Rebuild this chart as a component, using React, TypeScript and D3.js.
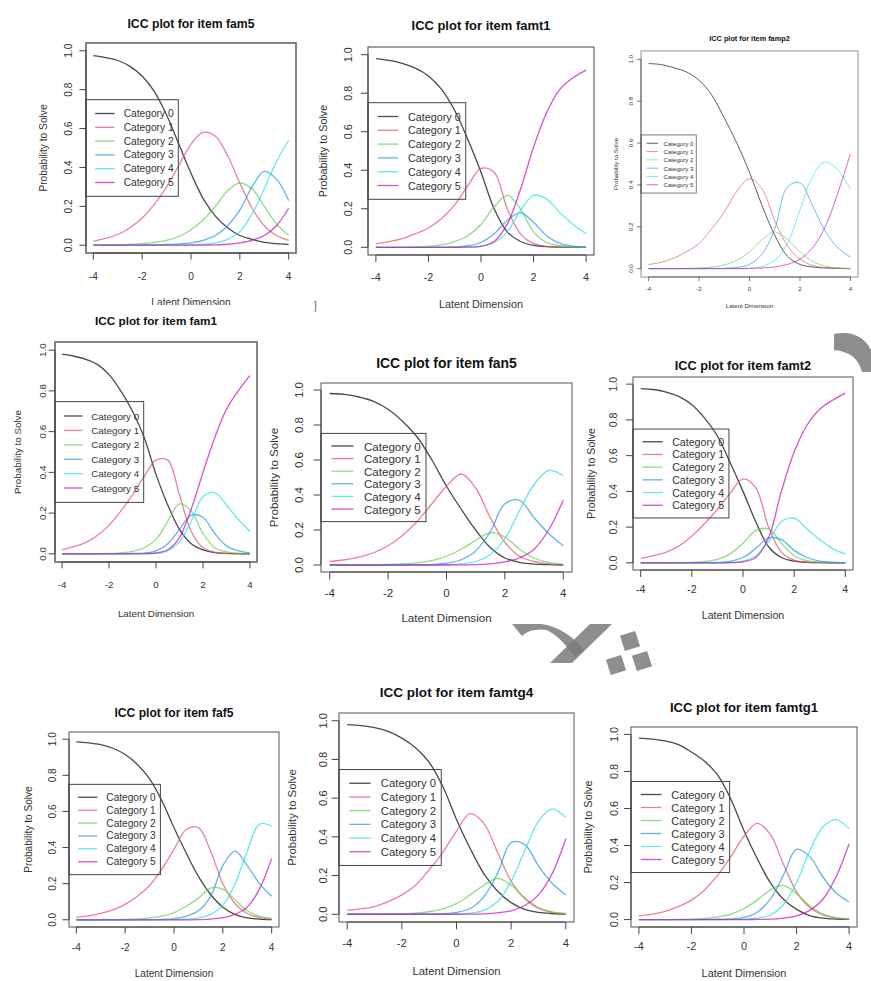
import { useEffect, useRef } from 'react';
import * as d3 from 'd3';

// latent dimension grid the curves were read at
const theta = [-4, -3.5, -3, -2.5, -2, -1.5, -1, -0.5, 0, 0.5, 1, 1.5, 2, 2.5, 3, 3.5, 4];
const categories = ['Category 0', 'Category 1', 'Category 2', 'Category 3', 'Category 4', 'Category 5'];
const xTicks = [-4, -2, 0, 2, 4];
const yTicks = [0, 0.2, 0.4, 0.6, 0.8, 1.0];

// probabilities per category (rows) at each theta (cols)
const fam5 = [
  [0.975, 0.965, 0.95, 0.92, 0.87, 0.79, 0.67, 0.52, 0.37, 0.24, 0.15, 0.09, 0.05, 0.03, 0.015, 0.008, 0.004],
  [0.02, 0.035, 0.055, 0.09, 0.14, 0.21, 0.3, 0.41, 0.52, 0.58, 0.56, 0.46, 0.32, 0.19, 0.1, 0.05, 0.025],
  [0, 0.001, 0.002, 0.004, 0.008, 0.015, 0.025, 0.045, 0.08, 0.13, 0.2, 0.28, 0.32, 0.29, 0.2, 0.11, 0.05],
  [0, 0, 0, 0, 0.001, 0.002, 0.004, 0.007, 0.012, 0.025, 0.05, 0.1, 0.18, 0.3, 0.38, 0.34, 0.23],
  [0, 0, 0, 0, 0, 0, 0.001, 0.001, 0.002, 0.005, 0.012, 0.03, 0.07, 0.16, 0.29, 0.43, 0.54],
  [0, 0, 0, 0, 0, 0, 0, 0, 0, 0.001, 0.002, 0.005, 0.012, 0.025, 0.05, 0.1, 0.19],
];
const famt1 = [
  [0.98, 0.97, 0.955, 0.93, 0.89, 0.82, 0.71, 0.56, 0.39, 0.2, 0.08, 0.03, 0.01, 0.003, 0.001, 0, 0],
  [0.02, 0.03, 0.045, 0.07, 0.1, 0.15, 0.22, 0.32, 0.41, 0.39, 0.2, 0.07, 0.02, 0.005, 0.001, 0, 0],
  [0, 0, 0, 0.002, 0.005, 0.012, 0.03, 0.06, 0.12, 0.21, 0.27, 0.2, 0.08, 0.025, 0.008, 0.002, 0],
  [0, 0, 0, 0, 0, 0.001, 0.002, 0.008, 0.025, 0.07, 0.14, 0.18, 0.13, 0.06, 0.02, 0.006, 0.002],
  [0, 0, 0, 0, 0, 0, 0, 0.002, 0.006, 0.025, 0.08, 0.19, 0.27, 0.25, 0.18, 0.12, 0.07],
  [0, 0, 0, 0, 0, 0, 0, 0.001, 0.005, 0.03, 0.12, 0.3, 0.52, 0.7, 0.82, 0.88, 0.92],
];
const famp2 = [
  [0.98, 0.975, 0.96, 0.94, 0.9, 0.83, 0.72, 0.6, 0.46, 0.3, 0.16, 0.06, 0.02, 0.008, 0.003, 0.001, 0],
  [0.02, 0.03, 0.05, 0.08, 0.12, 0.19, 0.27, 0.37, 0.43, 0.38, 0.23, 0.11, 0.045, 0.015, 0.005, 0.002, 0],
  [0, 0, 0, 0.001, 0.003, 0.008, 0.018, 0.04, 0.08, 0.14, 0.175, 0.14, 0.08, 0.035, 0.012, 0.004, 0.001],
  [0, 0, 0, 0, 0, 0.001, 0.002, 0.006, 0.02, 0.07, 0.19, 0.39, 0.41, 0.3, 0.18, 0.1, 0.055],
  [0, 0, 0, 0, 0, 0, 0, 0.001, 0.002, 0.01, 0.04, 0.12, 0.28, 0.44, 0.51, 0.47, 0.38],
  [0, 0, 0, 0, 0, 0, 0, 0, 0.001, 0.003, 0.008, 0.02, 0.045, 0.1, 0.2, 0.36, 0.55],
];
const fam1 = [
  [0.98, 0.97, 0.955, 0.93, 0.88, 0.8, 0.7, 0.57, 0.39, 0.24, 0.12, 0.05, 0.02, 0.006, 0.002, 0.001, 0],
  [0.02, 0.035, 0.055, 0.09, 0.14, 0.21, 0.29, 0.38, 0.46, 0.46, 0.29, 0.11, 0.03, 0.008, 0.002, 0, 0],
  [0, 0, 0, 0.001, 0.002, 0.005, 0.012, 0.03, 0.07, 0.16, 0.245, 0.21, 0.1, 0.03, 0.01, 0.003, 0.001],
  [0, 0, 0, 0, 0, 0.001, 0.002, 0.004, 0.015, 0.05, 0.12, 0.19, 0.18, 0.1, 0.04, 0.015, 0.005],
  [0, 0, 0, 0, 0, 0, 0, 0.001, 0.003, 0.015, 0.06, 0.16, 0.28, 0.3, 0.24, 0.17, 0.11],
  [0, 0, 0, 0, 0, 0, 0, 0.001, 0.004, 0.02, 0.08, 0.22, 0.4, 0.57, 0.71, 0.8, 0.875],
];
const fan5 = [
  [0.98, 0.975, 0.96, 0.935, 0.89, 0.82, 0.73, 0.6, 0.45, 0.32, 0.2, 0.1, 0.04, 0.015, 0.005, 0.002, 0],
  [0.02, 0.03, 0.045, 0.07, 0.11, 0.17, 0.25, 0.35, 0.45, 0.52, 0.44, 0.27, 0.13, 0.05, 0.02, 0.007, 0.002],
  [0, 0, 0, 0.001, 0.003, 0.006, 0.012, 0.025, 0.05, 0.09, 0.14, 0.185, 0.16, 0.09, 0.04, 0.015, 0.005],
  [0, 0, 0, 0, 0, 0, 0.001, 0.003, 0.01, 0.03, 0.08, 0.19, 0.35, 0.37, 0.27, 0.18, 0.11],
  [0, 0, 0, 0, 0, 0, 0, 0.001, 0.002, 0.006, 0.02, 0.06, 0.15, 0.31, 0.46, 0.54, 0.51],
  [0, 0, 0, 0, 0, 0, 0, 0, 0, 0.001, 0.002, 0.007, 0.018, 0.04, 0.09, 0.2, 0.37],
];
const famt2 = [
  [0.975, 0.97, 0.955, 0.93, 0.885, 0.81, 0.71, 0.56, 0.4, 0.23, 0.09, 0.03, 0.01, 0.003, 0.001, 0, 0],
  [0.025, 0.04, 0.06, 0.095, 0.15, 0.22, 0.3, 0.39, 0.47, 0.42, 0.2, 0.06, 0.015, 0.004, 0.001, 0, 0],
  [0, 0, 0, 0.001, 0.003, 0.008, 0.02, 0.05, 0.11, 0.18, 0.19, 0.11, 0.04, 0.012, 0.004, 0.001, 0],
  [0, 0, 0, 0, 0, 0, 0.002, 0.008, 0.03, 0.08, 0.14, 0.13, 0.07, 0.03, 0.01, 0.004, 0.001],
  [0, 0, 0, 0, 0, 0, 0, 0.002, 0.01, 0.04, 0.12, 0.23, 0.25, 0.19, 0.13, 0.08, 0.05],
  [0, 0, 0, 0, 0, 0, 0, 0.001, 0.006, 0.03, 0.14, 0.4, 0.62, 0.77, 0.86, 0.91, 0.95],
];
const faf5 = [
  [0.985, 0.98, 0.97, 0.95, 0.915, 0.86, 0.78, 0.66, 0.51, 0.37, 0.24, 0.14, 0.07, 0.03, 0.01, 0.004, 0.001],
  [0.015, 0.022, 0.035, 0.055, 0.085, 0.13, 0.19, 0.28, 0.39, 0.5, 0.51, 0.38, 0.2, 0.09, 0.035, 0.012, 0.004],
  [0, 0, 0, 0.001, 0.002, 0.005, 0.01, 0.02, 0.04, 0.075, 0.12, 0.175, 0.17, 0.11, 0.05, 0.02, 0.007],
  [0, 0, 0, 0, 0, 0, 0.001, 0.002, 0.006, 0.02, 0.05, 0.13, 0.3, 0.38, 0.3, 0.2, 0.13],
  [0, 0, 0, 0, 0, 0, 0, 0, 0.001, 0.003, 0.01, 0.03, 0.08, 0.2, 0.38, 0.53, 0.52],
  [0, 0, 0, 0, 0, 0, 0, 0, 0, 0, 0.001, 0.004, 0.012, 0.03, 0.07, 0.17, 0.34],
];
const famtg4 = [
  [0.98, 0.975, 0.965, 0.945, 0.91, 0.86, 0.785, 0.66, 0.49, 0.34, 0.21, 0.12, 0.06, 0.025, 0.01, 0.004, 0.001],
  [0.02, 0.028, 0.04, 0.065, 0.1, 0.15, 0.23, 0.32, 0.43, 0.52, 0.47, 0.32, 0.17, 0.08, 0.03, 0.01, 0.003],
  [0, 0, 0, 0.001, 0.003, 0.006, 0.013, 0.028, 0.055, 0.1, 0.15, 0.185, 0.15, 0.085, 0.035, 0.012, 0.004],
  [0, 0, 0, 0, 0, 0, 0.001, 0.003, 0.01, 0.03, 0.09, 0.21, 0.37, 0.36, 0.25, 0.16, 0.1],
  [0, 0, 0, 0, 0, 0, 0, 0.001, 0.002, 0.006, 0.02, 0.065, 0.17, 0.33, 0.48, 0.545, 0.5],
  [0, 0, 0, 0, 0, 0, 0, 0, 0, 0.001, 0.002, 0.007, 0.018, 0.045, 0.1, 0.21, 0.39],
];
const famtg1 = [
  [0.98, 0.975, 0.965, 0.945, 0.905, 0.855, 0.78, 0.65, 0.48, 0.33, 0.2, 0.11, 0.055, 0.022, 0.008, 0.003, 0.001],
  [0.02, 0.03, 0.045, 0.07, 0.105, 0.16, 0.24, 0.34, 0.45, 0.52, 0.46, 0.3, 0.15, 0.065, 0.025, 0.009, 0.003],
  [0, 0, 0, 0.001, 0.003, 0.007, 0.015, 0.03, 0.06, 0.105, 0.16, 0.185, 0.14, 0.075, 0.03, 0.01, 0.003],
  [0, 0, 0, 0, 0, 0.001, 0.002, 0.004, 0.012, 0.04, 0.11, 0.24, 0.38, 0.34, 0.23, 0.145, 0.095],
  [0, 0, 0, 0, 0, 0, 0, 0.001, 0.002, 0.008, 0.025, 0.08, 0.2, 0.37, 0.5, 0.54, 0.49],
  [0, 0, 0, 0, 0, 0, 0, 0, 0, 0.001, 0.002, 0.008, 0.02, 0.05, 0.11, 0.23, 0.41],
];

const items = ['fam5', 'famt1', 'famp2', 'fam1', 'fan5', 'famt2', 'faf5', 'famtg4', 'famtg1'];
const itemCurves = [fam5, famt1, famp2, fam1, fan5, famt2, faf5, famtg4, famtg1];

// R's default palette (col = 1:6)
const catColors = ['#2a2a2a', '#DF536B', '#61D04F', '#2297E6', '#28E2E5', '#CD0BBC'];

// where each screenshot sits in the collage
const panels = [
  { x: 86, y: 43, w: 210, h: 210, f: 10.2, row: 13.8, titleY: 24, tickY: 276, xlabY: 302, ylabX: 43, ytickX: 68, frame: '#777', fw: 1.8 },
  { x: 368, y: 47, w: 226, h: 208, f: 10.8, row: 13.8, titleY: 25, tickY: 277, xlabY: 304, ylabX: 323, ytickX: 348, frame: '#444', fw: 1 },
  { x: 641, y: 51, w: 217, h: 226, f: 6.1, row: 8.3, titleY: 38, tickY: 288, xlabY: 305, ylabX: 615, ytickX: 630, frame: '#777', fw: 0.8 },
  { x: 55, y: 342, w: 202, h: 220, f: 9.8, row: 14.4, titleY: 320, tickY: 584, xlabY: 613, ylabX: 17, ytickX: 42, frame: '#777', fw: 1.8 },
  { x: 321, y: 383, w: 251, h: 189, f: 11.6, row: 12.6, titleY: 363, tickY: 592, xlabY: 617, ylabX: 273, ytickX: 298, frame: '#555', fw: 1 },
  { x: 633, y: 377, w: 220, h: 193, f: 10.6, row: 12.7, titleY: 365, tickY: 589, xlabY: 615, ylabX: 591, ytickX: 613, frame: '#555', fw: 1 },
  { x: 69, y: 732, w: 210, h: 195, f: 10.1, row: 12.9, titleY: 713, tickY: 947, xlabY: 973, ylabX: 28, ytickX: 52, frame: '#555', fw: 1 },
  { x: 339, y: 713, w: 235, h: 209, f: 11.3, row: 13.7, titleY: 692, tickY: 943, xlabY: 971, ylabX: 292, ytickX: 323, frame: '#555', fw: 1 },
  { x: 631, y: 727, w: 226, h: 200, f: 10.9, row: 13, titleY: 707, tickY: 946, xlabY: 973, ylabX: 588, ytickX: 614, frame: '#555', fw: 1 },
];

const FONT = '"Liberation Sans", Arial, Helvetica, sans-serif';

export default function App() {
  const svgRef = useRef<SVGSVGElement | null>(null);

  useEffect(() => {
    if (!svgRef.current) return;
    const svg = d3.select(svgRef.current);
    svg.selectAll('*').remove();

    svg.append('rect').attr('width', 871).attr('height', 981).attr('fill', '#fff');

    // scanned-page decorations behind the plots
    const deco = svg.append('g').attr('fill', '#7a7a7a').attr('fill-opacity', 0.85);
    deco.append('path').attr('d', 'M834,334 Q860,329 871,350 L871,372 L862,372 Q857,352 834,350 Z');
    deco.append('path').attr('d', 'M512,624 L541,624 Q565,627 584,650 L575,657 Q559,635 546,630 Q531,628 522,636 Z');
    deco.append('path').attr('d', 'M590,624 L612,624 L572,663 L550,663 Z');
    [[630, 641], [616, 665], [642, 661]].forEach(([cx, cy]) => {
      deco.append('rect')
        .attr('x', cx - 8).attr('y', cy - 8).attr('width', 16).attr('height', 16)
        .attr('transform', `rotate(-18,${cx},${cy})`);
    });

    svg.append('text')
      .attr('x', 315).attr('y', 310)
      .attr('text-anchor', 'middle')
      .attr('font-family', 'serif').attr('font-size', 12).attr('fill', '#666')
      .text(']');

    panels.forEach((p, idx) => {
      const curves = itemCurves[idx];
      const f = p.f;
      const g = svg.append('g').attr('font-family', FONT);

      // lower-left screenshot covers the tail of the one above it
      if (idx === 3) g.append('rect').attr('x', 0).attr('y', 305).attr('width', 292).attr('height', 318).attr('fill', '#fff');

      const x = d3.scaleLinear().domain([-4.3, 4.3]).range([p.x, p.x + p.w]);
      const y = d3.scaleLinear().domain([-0.04, 1.04]).range([p.y + p.h, p.y]);
      const tick = 0.65 * f;
      const axisCol = '#444';

      // curves
      const line = d3.line<number>()
        .x((_, i) => x(theta[i]))
        .y((v) => y(Math.max(0, v)))
        .curve(d3.curveCatmullRom.alpha(0.5));

      g.append('g')
        .selectAll('path')
        .data(curves)
        .join('path')
        .attr('d', (d) => line(d))
        .attr('fill', 'none')
        .attr('stroke', (_, i) => catColors[i])
        .attr('stroke-opacity', (_, i) => (i === 0 ? 0.85 : 0.72))
        .attr('stroke-width', f < 8 ? 0.9 : 1.3);

      // frame
      g.append('rect')
        .attr('x', p.x).attr('y', p.y).attr('width', p.w).attr('height', p.h)
        .attr('fill', 'none').attr('stroke', p.frame).attr('stroke-width', p.fw);

      // x axis
      const xa = g.append('g').attr('stroke', axisCol).attr('stroke-width', f < 8 ? 0.7 : 1);
      xa.append('line')
        .attr('x1', x(xTicks[0])).attr('x2', x(xTicks[xTicks.length - 1]))
        .attr('y1', p.y + p.h).attr('y2', p.y + p.h);
      xa.selectAll('line.t').data(xTicks).join('line').attr('class', 't')
        .attr('x1', (d) => x(d)).attr('x2', (d) => x(d))
        .attr('y1', p.y + p.h).attr('y2', p.y + p.h + tick);
      g.selectAll('text.xt').data(xTicks).join('text').attr('class', 'xt')
        .attr('x', (d) => x(d)).attr('y', p.tickY)
        .attr('text-anchor', 'middle').attr('dominant-baseline', 'central')
        .attr('font-size', f).attr('fill', '#333')
        .text((d) => String(d));

      // y axis
      const ya = g.append('g').attr('stroke', axisCol).attr('stroke-width', f < 8 ? 0.7 : 1);
      ya.append('line')
        .attr('x1', p.x).attr('x2', p.x)
        .attr('y1', y(yTicks[0])).attr('y2', y(yTicks[yTicks.length - 1]));
      ya.selectAll('line.t').data(yTicks).join('line').attr('class', 't')
        .attr('x1', p.x - tick).attr('x2', p.x)
        .attr('y1', (d) => y(d)).attr('y2', (d) => y(d));
      g.selectAll('text.yt').data(yTicks).join('text').attr('class', 'yt')
        .attr('transform', (d) => `translate(${p.ytickX},${y(d)}) rotate(-90)`)
        .attr('text-anchor', 'middle').attr('dominant-baseline', 'central')
        .attr('font-size', f).attr('fill', '#333')
        .text((d) => d.toFixed(1));

      // titles
      const cx = p.x + p.w / 2;
      g.append('text')
        .attr('x', cx).attr('y', p.titleY)
        .attr('text-anchor', 'middle').attr('dominant-baseline', 'central')
        .attr('font-size', f * 1.2).attr('font-weight', 'bold').attr('fill', '#111')
        .text(`ICC plot for item ${items[idx]}`);
      g.append('text')
        .attr('x', cx).attr('y', p.xlabY)
        .attr('text-anchor', 'middle').attr('dominant-baseline', 'central')
        .attr('font-size', f).attr('fill', '#333')
        .text('Latent Dimension');
      g.append('text')
        .attr('transform', `translate(${p.ylabX},${p.y + p.h / 2}) rotate(-90)`)
        .attr('text-anchor', 'middle').attr('dominant-baseline', 'central')
        .attr('font-size', f).attr('fill', '#333')
        .text('Probability to Solve');

      // legend at "left"
      const lh = p.row * 7;
      const ly = p.y + p.h / 2 - lh / 2;
      const lw = f * 9.05;
      const lg = g.append('g');
      lg.append('rect')
        .attr('x', p.x).attr('y', ly).attr('width', lw).attr('height', lh)
        .attr('fill', 'none').attr('stroke', '#444').attr('stroke-width', f < 8 ? 0.7 : 1);
      const rows = lg.selectAll('g').data(categories).join('g')
        .attr('transform', (_, i) => `translate(${p.x},${ly + p.row * (i + 1)})`);
      rows.append('line')
        .attr('x1', f * 0.9).attr('x2', f * 2.8)
        .attr('stroke', (_, i) => catColors[i])
        .attr('stroke-opacity', (_, i) => (i === 0 ? 0.85 : 0.72))
        .attr('stroke-width', f < 8 ? 0.9 : 1.3);
      rows.append('text')
        .attr('x', f * 3.7)
        .attr('dominant-baseline', 'central')
        .attr('font-size', f).attr('fill', '#333')
        .text((d) => d);
    });
  }, []);

  return (
    <svg
      ref={svgRef}
      width={871}
      height={981}
      style={{ position: 'absolute', left: 0, top: 0, display: 'block' }}
    />
  );
}
